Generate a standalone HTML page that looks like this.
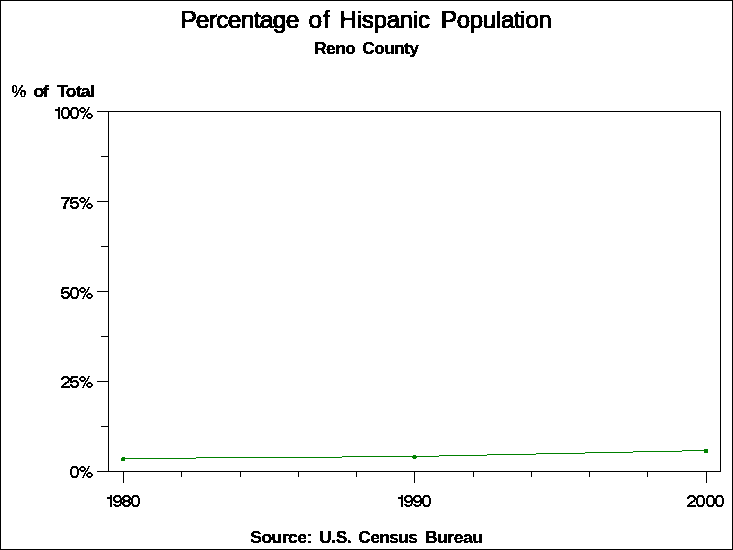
<!DOCTYPE html>
<html>
<head>
<meta charset="utf-8">
<title>Percentage of Hispanic Population</title>
<style>
html,body{margin:0;padding:0;background:#fff;}
body{width:733px;height:550px;overflow:hidden;position:relative;font-family:"Liberation Sans",sans-serif;}
svg{position:absolute;left:0;top:0;display:block;}
text{font-family:"Liberation Sans",sans-serif;fill:#000;}
.b{font-weight:bold;stroke:#000;stroke-width:0.3px;}
</style>
</head>
<body>
<svg width="733" height="550" viewBox="0 0 733 550">
  <rect x="0" y="0" width="733" height="550" fill="#fff"/>
  <!-- outer border -->
  <g shape-rendering="crispEdges" fill="#000">
    <rect x="0" y="0" width="733" height="1"/>
    <rect x="0" y="549" width="733" height="1"/>
    <rect x="0" y="0" width="1" height="550"/>
    <rect x="732" y="0" width="1" height="550"/>
    <!-- plot frame -->
    <rect x="108" y="111" width="613" height="1"/>
    <rect x="108" y="471" width="613" height="1"/>
    <rect x="108" y="111" width="1" height="361"/>
    <rect x="720" y="111" width="1" height="361"/>
    <!-- y major ticks -->
    <rect x="97" y="111" width="11" height="1"/>
    <rect x="97" y="201" width="11" height="1"/>
    <rect x="97" y="291" width="11" height="1"/>
    <rect x="97" y="381" width="11" height="1"/>
    <rect x="97" y="471" width="11" height="1"/>
    <!-- y minor ticks -->
    <rect x="101" y="156" width="7" height="1"/>
    <rect x="101" y="246" width="7" height="1"/>
    <rect x="101" y="336" width="7" height="1"/>
    <rect x="101" y="426" width="7" height="1"/>
    <!-- x major ticks -->
    <rect x="123" y="472" width="1" height="11"/>
    <rect x="414" y="472" width="1" height="11"/>
    <rect x="706" y="472" width="1" height="11"/>
    <!-- x minor ticks -->
    <rect x="181" y="472" width="1" height="5"/>
    <rect x="240" y="472" width="1" height="5"/>
    <rect x="298" y="472" width="1" height="5"/>
    <rect x="356" y="472" width="1" height="5"/>
    <rect x="473" y="472" width="1" height="5"/>
    <rect x="531" y="472" width="1" height="5"/>
    <rect x="589" y="472" width="1" height="5"/>
    <rect x="647" y="472" width="1" height="5"/>
  </g>
  <!-- data line -->
  <g shape-rendering="crispEdges" fill="#008000">
    <rect x="123" y="458" width="73" height="1"/>
    <rect x="196" y="457" width="146" height="1"/>
    <rect x="342" y="456" width="97" height="1"/>
    <rect x="439" y="455" width="48" height="1"/>
    <rect x="487" y="454" width="49" height="1"/>
    <rect x="536" y="453" width="49" height="1"/>
    <rect x="585" y="452" width="48" height="1"/>
    <rect x="633" y="451" width="49" height="1"/>
    <rect x="682" y="450" width="24" height="1"/>
    <rect x="122" y="457" width="3" height="1"/>
    <rect x="121" y="458" width="4" height="3"/>
    <rect x="413" y="455" width="3" height="4"/>
    <rect x="412" y="456" width="5" height="2"/>
    <rect x="704" y="449" width="4" height="4"/>
  </g>
  <!-- tick labels (bitmap glyphs) -->
  <g id="ticklabels" shape-rendering="crispEdges" fill="#000">
    <use href="#d1" x="55" y="107"/><use href="#d0" x="61" y="107"/><use href="#d0" x="70" y="107"/><use href="#dp" x="79" y="107"/>
    <use href="#d7" x="61" y="197"/><use href="#d5" x="70" y="197"/><use href="#dp" x="79" y="197"/>
    <use href="#d5" x="61" y="287"/><use href="#d0" x="70" y="287"/><use href="#dp" x="79" y="287"/>
    <use href="#d2" x="61" y="376"/><use href="#d5" x="70" y="376"/><use href="#dp" x="79" y="376"/>
    <use href="#d0" x="70" y="466"/><use href="#dp" x="79" y="466"/>
    <use href="#d1" x="107" y="495"/><use href="#d9" x="113" y="495"/><use href="#d8" x="122" y="495"/><use href="#d0" x="131" y="495"/>
    <use href="#d1" x="398" y="495"/><use href="#d9" x="404" y="495"/><use href="#d9" x="413" y="495"/><use href="#d0" x="422" y="495"/>
    <use href="#d2" x="687" y="495"/><use href="#d0" x="696" y="495"/><use href="#d0" x="706" y="495"/><use href="#d0" x="715" y="495"/>
  </g>
  <!-- text -->
  <defs>
    <path id="d0" d="M2 0h5v1h-5zM1 1h7v1h-7zM1 2h2v1h-2zM6 2h2v1h-2zM0 3h2v1h-2zM7 3h2v1h-2zM0 4h2v1h-2zM7 4h2v1h-2zM0 5h2v1h-2zM7 5h2v1h-2zM0 6h2v1h-2zM7 6h2v1h-2zM0 7h2v1h-2zM7 7h2v1h-2zM0 8h2v1h-2zM7 8h2v1h-2zM1 9h2v1h-2zM6 9h2v1h-2zM1 10h7v1h-7zM2 11h5v1h-5z"/>
    <path id="d1" d="M3 0h2v1h-2zM3 1h2v1h-2zM0 2h5v1h-5zM0 3h5v1h-5zM3 4h2v1h-2zM3 5h2v1h-2zM3 6h2v1h-2zM3 7h2v1h-2zM3 8h2v1h-2zM3 9h2v1h-2zM3 10h2v1h-2zM3 11h2v1h-2z"/>
    <path id="d2" d="M2 0h5v1h-5zM1 1h7v1h-7zM0 2h3v1h-3zM6 2h3v1h-3zM0 3h2v1h-2zM7 3h2v1h-2zM7 4h2v1h-2zM6 5h2v1h-2zM4 6h4v1h-4zM3 7h3v1h-3zM2 8h3v1h-3zM1 9h2v1h-2zM0 10h9v1h-9zM0 11h9v1h-9z"/>
    <path id="d5" d="M1 0h7v1h-7zM1 1h7v1h-7zM0 2h3v1h-3zM0 3h2v1h-2zM0 4h2v1h-2zM3 4h4v1h-4zM0 5h8v1h-8zM0 6h3v1h-3zM6 6h3v1h-3zM7 7h2v1h-2zM0 8h2v1h-2zM7 8h2v1h-2zM0 9h3v1h-3zM6 9h3v1h-3zM1 10h7v1h-7zM2 11h5v1h-5z"/>
    <path id="d7" d="M0 0h9v1h-9zM0 1h9v1h-9zM6 2h2v1h-2zM5 3h3v1h-3zM4 4h3v1h-3zM4 5h2v1h-2zM3 6h3v1h-3zM3 7h2v1h-2zM3 8h2v1h-2zM2 9h3v1h-3zM2 10h3v1h-3zM2 11h3v1h-3z"/>
    <path id="d8" d="M2 0h5v1h-5zM1 1h7v1h-7zM0 2h3v1h-3zM6 2h3v1h-3zM0 3h2v1h-2zM7 3h2v1h-2zM0 4h3v1h-3zM6 4h3v1h-3zM1 5h7v1h-7zM1 6h7v1h-7zM0 7h3v1h-3zM6 7h3v1h-3zM0 8h2v1h-2zM7 8h2v1h-2zM0 9h3v1h-3zM6 9h3v1h-3zM1 10h7v1h-7zM2 11h5v1h-5z"/>
    <path id="d9" d="M2 0h5v1h-5zM1 1h7v1h-7zM0 2h3v1h-3zM6 2h2v1h-2zM0 3h2v1h-2zM7 3h2v1h-2zM0 4h2v1h-2zM7 4h2v1h-2zM0 5h3v1h-3zM6 5h3v1h-3zM1 6h8v1h-8zM2 7h4v1h-4zM7 7h2v1h-2zM7 8h2v1h-2zM0 9h3v1h-3zM6 9h2v1h-2zM1 10h7v1h-7zM2 11h4v1h-4z"/>
    <path id="dp" d="M2 0h3v1h-3zM9 0h2v1h-2zM1 1h5v1h-5zM9 1h1v1h-1zM0 2h2v1h-2zM5 2h2v1h-2zM8 2h2v1h-2zM0 3h2v1h-2zM5 3h2v1h-2zM8 3h1v1h-1zM1 4h5v1h-5zM7 4h2v1h-2zM2 5h3v1h-3zM6 5h2v1h-2zM6 6h1v1h-1zM9 6h3v1h-3zM5 7h2v1h-2zM8 7h5v1h-5zM5 8h1v1h-1zM7 8h2v1h-2zM12 8h2v1h-2zM4 9h2v1h-2zM7 9h2v1h-2zM12 9h2v1h-2zM4 10h1v1h-1zM8 10h5v1h-5zM3 11h2v1h-2zM9 11h3v1h-3z"/>
    <filter id="al" filterUnits="userSpaceOnUse" x="0" y="0" width="733" height="550" color-interpolation-filters="sRGB">
      <feComponentTransfer><feFuncA type="discrete" tableValues="0 1"/></feComponentTransfer>
    </filter>
  </defs>
  <g filter="url(#al)">
  <g font-size="23.5" stroke="#000" stroke-width="1">
  <text transform="translate(180.2 28) scale(1.05 1)" textLength="113.52" lengthAdjust="spacing">Percentage</text>
  <text transform="translate(308.5 28) scale(1.04 1)" textLength="20.48" lengthAdjust="spacing">of</text>
  <text transform="translate(339.5 28) scale(1.02 1)" textLength="88.82" lengthAdjust="spacing">Hispanic</text>
  <text transform="translate(441.0 28) scale(1.02 1)" textLength="108.63" lengthAdjust="spacing">Population</text>
  </g>
  <g class="b" font-size="16.5" id="subt">
  <text transform="translate(314.0 54) scale(1.06 1)" textLength="39.62" lengthAdjust="spacing">Reno</text>
  <text transform="translate(362.3 54) scale(1.06 1)" textLength="53.40" lengthAdjust="spacing">County</text>
  </g>
  <g class="b" font-size="16.5" id="ylab">
  <text x="11.6" y="97" font-weight="normal" stroke-width="0.45">%</text>
  <text transform="translate(33.6 97) scale(1.06 1)" textLength="14.34" lengthAdjust="spacing">of</text>
  <text transform="translate(57.2 97) scale(1.06 1)" textLength="35.28" lengthAdjust="spacing">Total</text>
  </g>
  <g class="b" font-size="16.5">
  <text transform="translate(250.3 543) scale(1.06 1)" textLength="58.49" lengthAdjust="spacing">Source:</text>
  <text transform="translate(319.3 543) scale(1.06 1)" textLength="30.47" lengthAdjust="spacing">U.S.</text>
  <text transform="translate(358.3 543) scale(1.06 1)" textLength="56.13" lengthAdjust="spacing">Census</text>
  <text transform="translate(424.9 543) scale(1.06 1)" textLength="54.72" lengthAdjust="spacing">Bureau</text>
  </g>
  </g>
</svg>
</body>
</html>
